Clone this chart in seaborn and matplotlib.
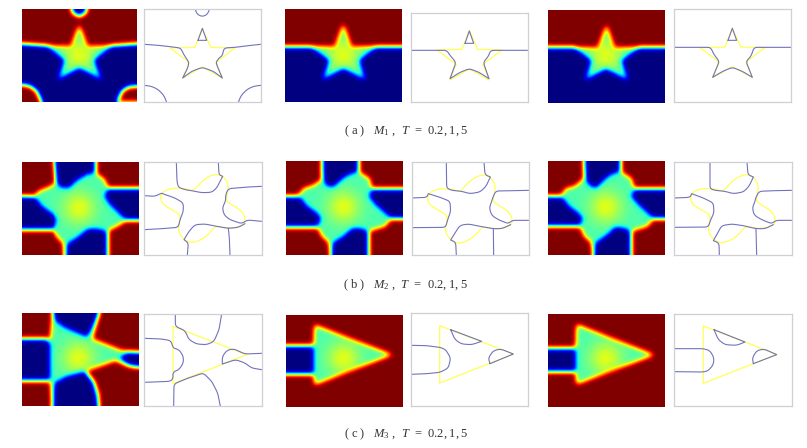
import numpy as np
import matplotlib
matplotlib.use("Agg")
import matplotlib.pyplot as plt
from matplotlib.path import Path
import seaborn as sns

# outlines, in units of 1/3 pixel inside each crop
star_yellow = [(562, 76), (587, 133), (660, 135), (603, 178), (622, 225), (562, 192), (503, 225),
               (523, 178), (465, 135), (540, 133), (562, 76)]
blob_yellow = [(437, 115), (445, 100), (465, 92), (490, 90), (515, 93), (535, 99), (555, 75), (580, 55),
               (605, 48), (625, 55), (638, 75), (640, 92), (632, 128), (650, 140), (675, 155), (690, 175),
               (690, 197), (670, 208), (640, 211), (600, 204), (585, 225), (560, 245), (530, 255),
               (507, 245), (492, 225), (490, 208), (495, 185), (495, 170), (470, 155), (445, 140),
               (437, 125), (437, 115)]
tri_yellow = [(474, 55), (695, 140), (474, 227), (474, 55)]

# blue level lines, one list per panel
m1a_lines = [
    [(541, 20), (545, 30), (552, 37), (562, 40), (572, 37), (579, 30), (583, 20)],
    [(549, 112), (562, 76), (575, 112), (549, 112)],
    [(388, 124), (430, 127), (465, 131), (497, 135), (505, 152), (510, 160), (522, 178), (518, 195), (503, 225),
     (530, 205), (562, 193), (595, 205), (622, 225), (607, 190), (603, 178), (612, 165), (622, 158), (627, 135),
     (660, 133), (700, 128), (737, 124)],
    [(388, 247), (410, 250), (430, 260), (447, 278), (455, 298)],
    [(737, 247), (715, 250), (695, 260), (678, 278), (670, 298)],
]
m1b_lines = [
    [(555, 121), (568, 84), (581, 121), (555, 121)],
    [(392, 142), (500, 142), (510, 157), (528, 178), (510, 227), (540, 208), (568, 197), (597, 208), (627, 227),
     (610, 178), (625, 160), (632, 142), (743, 142)],
]
m1c_lines = [
    [(549, 112), (562, 76), (575, 112), (549, 112)],
    [(388, 133), (497, 133), (507, 155), (523, 175), (503, 223), (533, 205), (562, 193), (592, 205), (622, 223),
     (603, 175), (618, 160), (627, 133), (737, 133)],
]
m2a_lines = [
    [(484, 12), (486, 70), (490, 88), (510, 95), (535, 99), (560, 104), (590, 103), (605, 90), (623, 55), (612, 50), (610, 12)],
    [(740, 85), (700, 87), (640, 92), (632, 110), (632, 128), (622, 150), (628, 172), (645, 185), (680, 197), (697, 186), (740, 190)],
    [(690, 197), (670, 208), (640, 211), (600, 204), (570, 198), (540, 200), (522, 220), (507, 245), (520, 255), (517, 291)],
    [(640, 211), (643, 240), (645, 291)],
    [(388, 113), (420, 115), (440, 105), (445, 108), (480, 120), (505, 135), (505, 160), (495, 185), (490, 208), (440, 212), (388, 215)],
]
m2b_lines = [
    [(499, 13), (500, 90), (515, 97), (545, 100), (570, 107), (600, 102), (618, 85), (631, 57), (615, 50), (612, 13)],
    [(746, 97), (700, 98), (647, 99), (638, 120), (635, 130), (628, 150), (635, 172), (655, 185), (685, 197), (697, 187), (746, 187)],
    [(692, 200), (665, 212), (640, 212), (600, 205), (565, 198), (540, 202), (525, 225), (512, 246), (527, 253), (529, 292)],
    [(640, 212), (641, 292)],
    [(395, 120), (440, 118), (445, 107), (480, 118), (510, 130), (512, 160), (503, 185), (497, 208), (395, 209)],
]
m2c_lines = [
    [(495, 13), (495, 92), (510, 97), (540, 100), (565, 107), (595, 102), (612, 85), (625, 57), (609, 50), (606, 13)],
    [(740, 97), (690, 98), (642, 100), (632, 120), (630, 130), (622, 150), (628, 172), (650, 185), (680, 197), (693, 187), (740, 187)],
    [(685, 200), (660, 212), (633, 212), (595, 203), (560, 198), (530, 203), (518, 225), (505, 248), (522, 255), (523, 292)],
    [(633, 212), (635, 292)],
    [(388, 120), (435, 118), (440, 107), (475, 120), (505, 135), (507, 165), (497, 185), (490, 207), (388, 208)],
]
m3a_lines = [
    [(481, 18), (481, 55), (510, 68), (522, 95), (545, 108), (575, 110), (597, 100), (612, 65), (620, 18)],
    [(388, 91), (440, 93), (468, 98), (474, 120), (492, 125), (505, 145), (505, 165), (492, 185), (474, 192), (474, 212), (465, 220), (388, 223)],
    [(476, 295), (477, 228), (515, 212), (565, 195), (590, 220), (608, 255), (616, 295)],
    [(740, 136), (690, 138), (657, 123), (637, 126), (622, 145), (622, 168), (662, 155), (690, 165), (710, 180), (740, 185)],
]
m3b_lines = [
    [(394, 112), (440, 113), (470, 117), (480, 118), (497, 125), (512, 150), (505, 180), (480, 193), (440, 197), (394, 199)],
    [(512, 65), (525, 95), (545, 108), (575, 110), (605, 100), (512, 65)],
    [(630, 167), (625, 150), (640, 128), (662, 123), (700, 138), (630, 167)],
]
m3c_lines = [
    [(388, 122), (475, 122), (495, 128), (507, 150), (505, 170), (490, 188), (475, 192), (388, 191)],
    [(507, 65), (520, 95), (540, 110), (575, 112), (600, 102), (507, 65)],
    [(625, 167), (622, 150), (635, 128), (657, 123), (695, 140), (625, 167)],
]

# regions of the level set images: red, blue, whatever is left is the green shape
m1a_red = [[(21, 18), (168, 18), (172, 30), (192, 42), (212, 30), (216, 18), (365, 18), (365, 124), (290, 129),
            (218, 130), (192, 66), (166, 130), (95, 129), (21, 124)],
           [(21, 245), (45, 250), (65, 265), (80, 298), (21, 298)],
           [(365, 250), (340, 252), (320, 265), (305, 298), (365, 298)]]
m1a_blue = [[(168, 18), (172, 30), (192, 42), (212, 30), (216, 18)],
            [(21, 124), (95, 129), (148, 172), (128, 231), (192, 195), (259, 231), (236, 172), (290, 129), (365, 124),
             (365, 250), (340, 252), (320, 265), (305, 298), (80, 298), (65, 265), (45, 250), (21, 245)]]
m1b_red = [[(16, 18), (367, 18), (367, 132), (216, 132), (190, 64), (164, 132), (16, 132)]]
m1b_blue = [[(16, 132), (92, 132), (148, 172), (128, 231), (190, 197), (256, 231), (238, 172), (290, 132), (367, 132),
             (367, 298), (16, 298)]]
m1c_red = [[(10, 20), (360, 20), (360, 133), (210, 133), (185, 66), (158, 133), (10, 133)]]
m1c_blue = [[(10, 133), (88, 133), (140, 172), (121, 231), (183, 197), (249, 231), (230, 172), (283, 133), (360, 133),
             (360, 300), (10, 300)]]

m2a_red = [[(21, 13), (118, 13), (122, 75), (100, 88), (70, 100), (58, 115), (21, 115)],
           [(243, 13), (372, 13), (372, 90), (280, 90), (270, 65), (243, 45)],
           [(372, 188), (372, 292), (278, 292), (278, 220), (320, 198), (332, 188)],
           [(21, 215), (115, 215), (125, 235), (145, 255), (150, 292), (21, 292)]]
m2a_blue = [[(118, 13), (122, 70), (135, 88), (160, 92), (185, 68), (215, 50), (243, 45), (243, 13)],
            [(372, 90), (280, 90), (268, 115), (285, 140), (325, 178), (332, 188), (372, 188)],
            [(150, 292), (155, 258), (185, 240), (215, 215), (240, 212), (278, 220), (278, 292)],
            [(21, 115), (60, 118), (80, 145), (115, 170), (125, 185), (115, 215), (21, 215)]]
m2b_red = [[(18, 10), (125, 10), (125, 65), (100, 82), (70, 92), (55, 113), (18, 115)],
           [(236, 10), (368, 10), (368, 92), (275, 92), (268, 62), (236, 42)],
           [(368, 183), (368, 290), (265, 290), (265, 220), (315, 205), (332, 183)],
           [(18, 207), (112, 207), (125, 235), (145, 252), (152, 290), (18, 290)]]
m2b_blue = [[(125, 10), (127, 65), (140, 85), (160, 88), (190, 60), (215, 47), (236, 42), (236, 10)],
            [(368, 92), (275, 92), (265, 115), (285, 140), (325, 175), (332, 183), (368, 183)],
            [(152, 290), (158, 255), (190, 235), (215, 212), (240, 212), (265, 220), (265, 290)],
            [(18, 115), (60, 118), (80, 145), (110, 165), (122, 180), (112, 207), (18, 207)]]
m2c_red = [[(10, 10), (117, 10), (117, 62), (90, 85), (62, 92), (50, 113), (10, 115)],
           [(228, 10), (360, 10), (360, 92), (268, 92), (260, 62), (228, 42)],
           [(360, 183), (360, 290), (258, 290), (258, 220), (308, 205), (325, 183)],
           [(10, 205), (105, 205), (118, 235), (138, 252), (146, 290), (10, 290)]]
m2c_blue = [[(117, 10), (122, 68), (140, 88), (155, 90), (185, 60), (205, 47), (228, 42), (228, 10)],
            [(360, 92), (268, 92), (258, 115), (280, 140), (318, 175), (325, 183), (360, 183)],
            [(146, 290), (152, 255), (185, 232), (210, 208), (235, 210), (258, 220), (258, 290)],
            [(10, 115), (52, 118), (72, 145), (100, 165), (113, 180), (105, 205), (10, 205)]]

m3a_red = [[(21, 16), (112, 16), (105, 93), (21, 93)],
           [(252, 16), (371, 16), (371, 133), (320, 128), (232, 93), (240, 60)],
           [(371, 178), (345, 175), (300, 157), (210, 190), (235, 220), (250, 260), (250, 294), (371, 294)],
           [(21, 218), (105, 218), (112, 294), (21, 294)]]
m3a_blue = [[(112, 16), (120, 40), (150, 60), (215, 88), (232, 60), (252, 16)],
            [(21, 93), (95, 93), (104, 110), (104, 195), (105, 218), (21, 218)],
            [(112, 294), (118, 225), (155, 205), (210, 190), (235, 225), (250, 294)],
            [(371, 133), (335, 133), (312, 150), (335, 170), (350, 175), (371, 178)]]
m3b_red = [[(18, 20), (368, 20), (368, 296), (18, 296), (18, 198), (100, 198), (103, 230), (336, 140), (103, 50),
            (100, 113), (18, 113)]]
m3b_blue = [[(18, 113), (100, 113), (100, 198), (18, 198)]]
m3c_red = [[(10, 18), (360, 18), (360, 296), (10, 296), (10, 190), (92, 190), (95, 228), (328, 140), (95, 48),
            (92, 120), (10, 120)]]
m3c_blue = [[(10, 120), (92, 120), (92, 190), (10, 190)]]

captions = ["( a )   $M_1$ ,  $T$  =  0.2,\u20091,\u20095", "( b )   $M_2$ ,  $T$  =  0.2,\u20091,\u20095",
            "( c )   $M_3$ ,  $T$  =  0.2,\u20091,\u20095"]
caption_y = [131, 285, 434]

W, H = 807, 448
LINE_BLUE = "#7272bd"
LINE_YELLOW = "#ffff55"
FRAME = "#cfcfd6"

sns.set_theme(style="white")
plt.rcParams["mathtext.fontset"] = "custom"
plt.rcParams["mathtext.rm"] = "Liberation Serif"
plt.rcParams["mathtext.it"] = "Liberation Serif:italic"
plt.rcParams["font.family"] = ["Liberation Serif"]

fig = plt.figure(figsize=(W / 100, H / 100), dpi=100, facecolor="white")


def panel_axes(origin, box):
    x0 = origin[0] + box[0] / 3
    x1 = origin[0] + box[1] / 3
    y0 = origin[1] + box[2] / 3
    y1 = origin[1] + box[3] / 3
    return fig.add_axes([x0 / W, 1 - y1 / H, (x1 - x0) / W, (y1 - y0) / H])


def blur(img, sigma):
    r = int(3 * sigma)
    k = np.exp(-0.5 * (np.arange(-r, r + 1) / sigma) ** 2)
    k = k / k.sum()
    for axis in (0, 1):
        pad = [(r, r) if a == axis else (0, 0) for a in (0, 1)]
        big = np.pad(img, pad, mode="edge")
        img = np.apply_along_axis(lambda v: np.convolve(v, k, mode="valid"), axis, big)
    return img


def level_image(box, red, blue, centre, step=1.5, sigma=5.0):
    # sample at cell centres so the outer row and column fall inside the polygons
    xs = np.arange(box[0] + step / 2, box[1], step)
    ys = np.arange(box[2] + step / 2, box[3], step)
    gx, gy = np.meshgrid(xs, ys)
    pts = np.c_[gx.ravel(), gy.ravel()]
    r2 = (gx - centre[0]) ** 2 + (gy - centre[1]) ** 2
    img = 0.44 + 0.19 * np.exp(-r2 / 48 ** 2)
    for poly in red:
        img[Path(poly).contains_points(pts, radius=1).reshape(gx.shape)] = 1.0
    for poly in blue:
        img[Path(poly).contains_points(pts, radius=1).reshape(gx.shape)] = 0.0
    return blur(img, sigma)


def soften(line, cap=10, limit=75):
    # round gentle corners of a hand read polyline, keep the sharp tips
    pts = np.array(line, dtype=float)
    out = [pts[0]]
    for a, b, c in zip(pts[:-2], pts[1:-1], pts[2:]):
        u = a - b
        v = c - b
        lu = np.hypot(*u)
        lv = np.hypot(*v)
        turn = 180 - np.degrees(np.arccos(np.clip(u @ v / (lu * lv), -1, 1)))
        if turn > limit:
            out.append(b)
            continue
        p0 = b + u / lu * min(cap, 0.45 * lu)
        p2 = b + v / lv * min(cap, 0.45 * lv)
        for t in np.linspace(0, 1, 7):
            out.append((1 - t) ** 2 * p0 + 2 * t * (1 - t) * b + t ** 2 * p2)
    out.append(pts[-1])
    return np.array(out)


def draw_heat(origin, box, red, blue, centre):
    ax = panel_axes(origin, box)
    sns.heatmap(level_image(box, red, blue, centre), cmap="jet", vmin=0, vmax=1, cbar=False,
                xticklabels=False, yticklabels=False, ax=ax, rasterized=True)


def draw_lines(origin, box, lines, yellow, shift, round_yellow=False):
    ax = panel_axes(origin, box)
    yp = np.array(yellow, dtype=float) + shift
    if round_yellow:
        yp = soften(yp, cap=14, limit=110)
    sns.lineplot(x=yp[:, 0], y=yp[:, 1], sort=False, estimator=None, color=LINE_YELLOW, lw=0.9, ax=ax)
    for line in lines:
        lp = soften(line)
        sns.lineplot(x=lp[:, 0], y=lp[:, 1], sort=False, estimator=None, color=LINE_BLUE, lw=0.8, ax=ax)
    ax.set_xlim(box[0], box[1])
    ax.set_ylim(box[3], box[2])
    ax.set_xticks([])
    ax.set_yticks([])
    ax.set_xlabel("")
    ax.set_ylabel("")
    for s in ax.spines.values():
        s.set_color(FRAME)
        s.set_linewidth(0.9)


# row 1
draw_heat((15, 3), (21, 365, 18, 298), m1a_red, m1a_blue, (192, 155))
draw_lines((15, 3), (388, 737, 18, 298), m1a_lines, star_yellow, (0, 0))
draw_heat((280, 3), (16, 367, 18, 298), m1b_red, m1b_blue, (190, 155))
draw_lines((280, 3), (392, 743, 31, 298), m1b_lines, star_yellow, (6, 6))
draw_heat((545, 3), (10, 360, 20, 300), m1c_red, m1c_blue, (183, 155))
draw_lines((545, 3), (388, 737, 18, 298), m1c_lines, star_yellow, (0, -1))

# row 2
draw_heat((15, 158), (21, 372, 13, 292), m2a_red, m2a_blue, (192, 150))
draw_lines((15, 158), (388, 740, 12, 291), m2a_lines, blob_yellow, (0, 0), True)
draw_heat((280, 158), (18, 368, 10, 290), m2b_red, m2b_blue, (190, 147))
draw_lines((280, 158), (395, 746, 13, 292), m2b_lines, blob_yellow, (6, 2), True)
draw_heat((545, 158), (10, 360, 10, 290), m2c_red, m2c_blue, (183, 147))
draw_lines((545, 158), (388, 740, 13, 292), m2c_lines, blob_yellow, (0, 1), True)

# row 3
draw_heat((15, 308), (21, 371, 16, 294), m3a_red, m3a_blue, (190, 150))
draw_lines((15, 308), (388, 740, 18, 295), m3a_lines, tri_yellow, (0, 0))
draw_heat((280, 308), (18, 368, 20, 296), m3b_red, m3b_blue, (190, 150))
draw_lines((280, 308), (394, 744, 16, 295), m3b_lines, tri_yellow, (5, -2))
draw_heat((545, 308), (10, 360, 18, 296), m3c_red, m3c_blue, (183, 150))
draw_lines((545, 308), (388, 740, 18, 295), m3c_lines, tri_yellow, (1, -1))

for text, y in zip(captions, caption_y):
    fig.text(406 / W, 1 - y / H, text, ha="center", va="center", fontsize=9, color="#333333")

fig.savefig("out.png", dpi=100)
